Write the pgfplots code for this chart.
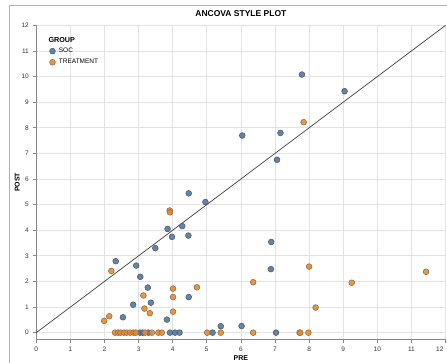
\documentclass[border=0pt]{standalone}
\usepackage{pgfplots}
\pgfplotsset{compat=1.18}
\usepackage{fontspec}
\setmainfont{Liberation Sans}
\definecolor{socblue}{HTML}{4C78A8}
\definecolor{trtorange}{HTML}{F58518}
\definecolor{gridgray}{HTML}{E3E3E3}
\definecolor{axgray}{HTML}{888888}
\definecolor{labgray}{HTML}{333333}
\begin{document}
\begin{tikzpicture}
\path[use as bounding box] (-36.3pt,-23.7pt) rectangle (410.7pt,339.3pt);
\draw[black!30, line width=0.8pt] (-27pt,-30pt) -- (-27pt,334pt) -- (420pt,334pt);
\begin{axis}[
  at={(0,0)}, anchor=south west,
  scale only axis,
  width=409.2pt, height=313.9pt,
  xmin=0, xmax=12, ymin=-0.26, ymax=12,
  xtick={0,1,...,11}, ytick={0,1,...,12},
  extra x ticks={12},
  extra x tick style={xticklabel style={anchor=north east, xshift=1.5pt}},
  grid=major,
  major grid style={gridgray, line width=0.8pt},
  axis lines*=left,
  axis line style={-, axgray, line width=0.8pt},
  tick align=outside,
  major tick length=3.5pt,
  tick style={axgray, line width=0.8pt},
  ticklabel style={font=\fontsize{6.5}{7}\selectfont, text=labgray},
  /pgf/number format/assume math mode=true,
  xticklabel style={yshift=-1pt},
  yticklabel style={xshift=-0.5pt},
  clip=false,
  legend style={at={(0,1)}, anchor=north west, xshift=13.1pt, yshift=-22.3pt,
    draw=none, fill=none, inner sep=0pt, row sep=4.6pt, column sep=3.5pt,
    font=\fontsize{6.5}{7}\selectfont,
    nodes={inner sep=0pt, text height=5pt, text depth=1.5pt}},
  legend cell align=left,
  legend image code/.code={\draw[#1] plot coordinates {(3.3pt,0pt)};},
]
\addplot[line width=0.7pt, color=black!75, forget plot] coordinates {(0,0) (12,12)};
\addplot[only marks, mark=*, mark size=2.9pt,
  mark options={fill=socblue, fill opacity=0.9, draw=black!65, line width=0.55pt}]
  coordinates {
  (2.33,2.79) (2.93,2.62) (3.05,2.18) (3.27,1.76) (3.36,1.17) (2.84,1.09)
  (2.54,0.60) (3.83,0.51) (4.47,1.39) (3.49,3.30) (3.85,4.05) (3.98,3.74)
  (4.28,4.16) (4.46,3.79) (4.47,5.44) (4.96,5.10) (5.41,0.25) (6.02,0.26)
  (6.04,7.70) (7.16,7.80) (7.06,6.75) (7.79,10.08) (9.04,9.43) (6.89,3.54)
  (6.88,2.48)
  (3.04,0) (3.12,0) (3.29,0) (3.92,0) (4.07,0) (4.20,0) (5.17,0) (7.03,0)
  };
\addlegendentry{SOC}
\addplot[only marks, mark=*, mark size=2.9pt,
  mark options={fill=trtorange, fill opacity=0.9, draw=black!55, line width=0.55pt}]
  coordinates {
  (2.20,2.41) (1.99,0.46) (2.14,0.64) (3.14,1.45) (3.17,0.94) (3.33,0.76)
  (4.01,1.72) (4.01,1.39) (4.01,0.82) (4.71,1.77) (3.91,4.77) (3.92,4.70)
  (7.84,8.22) (8.00,2.58) (11.43,2.38) (6.36,1.97) (9.25,1.95) (8.19,0.98)
  (2.31,0) (2.40,0) (2.47,0) (2.57,0) (2.65,0) (2.75,0) (2.85,0) (2.92,0)
  (3.19,0) (3.39,0) (3.58,0) (3.68,0) (5.01,0) (5.41,0) (6.36,0) (7.72,0)
  (7.74,0) (7.98,0)
  };
\addlegendentry{TREATMENT}
\node[anchor=west, font=\bfseries\fontsize{7.2}{8}\selectfont, inner sep=0pt]
  at ([xshift=12pt,yshift=-14.6pt]rel axis cs:0,1) {GROUP};
\node[font=\bfseries\fontsize{8.5}{10}\selectfont, inner sep=0pt]
  at ([yshift=12pt]rel axis cs:0.5,1) {ANCOVA STYLE PLOT};
\node[font=\bfseries\fontsize{7}{8}\selectfont, inner sep=0pt]
  at ([yshift=-18.4pt]rel axis cs:0.5,0) {PRE};
\node[font=\bfseries\fontsize{7}{8}\selectfont, inner sep=0pt, rotate=90]
  at ([xshift=-19pt]rel axis cs:0,0.5) {POST};
\end{axis}
\end{tikzpicture}
\end{document}
